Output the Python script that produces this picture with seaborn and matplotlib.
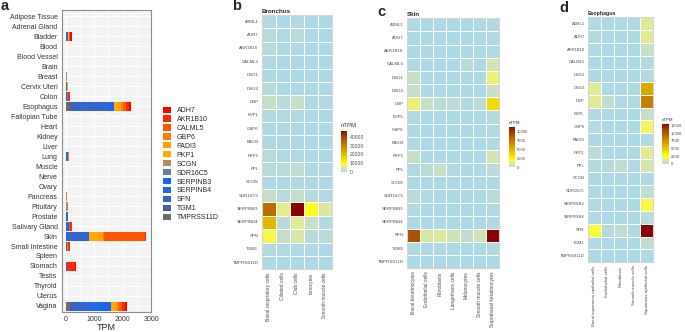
import numpy as np
import pandas as pd
import matplotlib
matplotlib.use('Agg')
import matplotlib.pyplot as plt
import seaborn as sns
from matplotlib.colors import ListedColormap, to_rgb
from matplotlib.patches import Patch

# ── Panel a: TPM theo mô ──
tissues = ['Adipose Tissue', 'Adrenal Gland', 'Bladder', 'Blood', 'Blood Vessel', 'Brain',
           'Breast', 'Cervix Uteri', 'Colon', 'Esophagus', 'Fallopian Tube', 'Heart',
           'Kidney', 'Liver', 'Lung', 'Muscle', 'Nerve', 'Ovary', 'Pancreas', 'Pituitary',
           'Prostate', 'Salivary Gland', 'Skin', 'Small Intestine', 'Spleen', 'Stomach',
           'Testis', 'Thyroid', 'Uterus', 'Vagina']
genes_a = ['ADH7', 'AKR1B10', 'CALML5', 'GBP6', 'PADI3', 'PKP1', 'SCGN', 'SDR16C5',
           'SERPINB3', 'SERPINB4', 'SFN', 'TGM1', 'TMPRSS11D']
gene_colors = ['#FF0000', '#FF2A00', '#FF5500', '#FF7F00', '#FFA200', '#FFAA00', '#B38C5A',
               '#6878A8', '#1E62F0', '#2466E6', '#3366CC', '#4A5E9A', '#6B6B6B']

ADH7 = [0, 0, 45, 0, 0, 0, 0, 2, 30, 75, 0, 0, 10, 0, 3, 0, 0, 0, 0, 0, 2, 10, 5, 10, 0, 40, 0, 0, 0, 60]
AKR1B10 = [0, 0, 30, 0, 0, 0, 0, 3, 60, 110, 0, 0, 5, 2, 5, 0, 0, 0, 0, 0, 3, 60, 10, 80, 0, 270, 0, 0, 0, 120]
CALML5 = [0, 0, 20, 0, 0, 0, 2, 2, 0, 100, 0, 0, 0, 0, 2, 0, 0, 0, 0, 0, 2, 40, 1480, 0, 0, 5, 0, 0, 0, 120]
GBP6 = [0, 0, 5, 0, 0, 0, 0, 1, 5, 80, 0, 0, 0, 0, 1, 0, 0, 0, 0, 0, 0, 5, 10, 5, 0, 0, 0, 0, 0, 50]
PADI3 = [0, 0, 5, 0, 0, 0, 0, 0, 0, 100, 0, 0, 0, 0, 0, 0, 0, 0, 0, 0, 0, 0, 230, 0, 0, 0, 0, 0, 0, 100]
PKP1 = [0, 0, 15, 0, 0, 0, 0, 3, 2, 130, 0, 0, 0, 0, 2, 0, 0, 0, 0, 0, 2, 5, 260, 2, 0, 2, 0, 0, 0, 120]
SCGN = [2, 3, 0, 0, 0, 5, 15, 0, 2, 0, 2, 0, 0, 0, 0, 0, 0, 0, 30, 50, 0, 0, 0, 2, 0, 0, 0, 0, 0, 0]
SDR16C5 = [3, 0, 3, 0, 2, 2, 3, 2, 2, 20, 3, 0, 0, 0, 3, 0, 2, 2, 0, 2, 3, 5, 20, 2, 0, 2, 0, 0, 0, 10]
SERPINB3 = [0, 0, 5, 0, 0, 0, 0, 10, 0, 130, 0, 0, 0, 0, 20, 0, 0, 0, 0, 0, 5, 10, 10, 0, 0, 0, 0, 0, 0, 400]
SERPINB4 = [0, 0, 5, 0, 0, 0, 0, 8, 0, 120, 0, 0, 0, 0, 10, 0, 0, 0, 0, 0, 3, 5, 5, 0, 0, 0, 0, 0, 0, 350]
SFN = [5, 3, 60, 2, 5, 2, 5, 30, 50, 1140, 5, 3, 3, 3, 50, 3, 5, 5, 5, 5, 50, 70, 780, 40, 3, 40, 5, 5, 5, 630]
TGM1 = [0, 0, 5, 0, 0, 0, 0, 2, 2, 200, 0, 0, 0, 0, 2, 0, 0, 0, 0, 0, 10, 5, 10, 2, 0, 2, 0, 0, 0, 50]
TMPRSS11D = [0, 0, 5, 0, 0, 0, 2, 2, 2, 100, 0, 0, 0, 0, 2, 0, 0, 0, 0, 0, 2, 3, 0, 2, 0, 2, 0, 0, 0, 150]
tpm_lists = [ADH7, AKR1B10, CALML5, GBP6, PADI3, PKP1, SCGN, SDR16C5,
             SERPINB3, SERPINB4, SFN, TGM1, TMPRSS11D]

# ── Panel b-d: nTPM theo loại tế bào ──
genes_hm = ['A2ML1', 'ADH7', 'AKR1B10', 'CALML5', 'DSG1', 'DSG3', 'DSP', 'EVPL', 'GBP6',
            'PADI3', 'PKP1', 'PPL', 'SCGN', 'SDR16C5', 'SERPINB3', 'SERPINB4', 'SFN',
            'TGM1', 'TMPRSS11D']

bronchus_cells = ['Basal respiratory cells', 'Ciliated cells', 'Club cells', 'Ionocytes',
                  'Smooth muscle cells']
bronchus_ntpm = [
    [200, 150, 200, 80, 40],
    [750, 200, 800, 150, 40],
    [750, 200, 350, 150, 40],
    [200, 150, 150, 80, 40],
    [150, 80, 80, 80, 40],
    [750, 150, 150, 80, 40],
    [1900, 750, 1900, 300, 200],
    [400, 200, 200, 150, 40],
    [500, 200, 300, 150, 40],
    [150, 80, 80, 80, 40],
    [750, 200, 300, 150, 40],
    [900, 900, 1400, 300, 200],
    [150, 150, 200, 80, 40],
    [1900, 750, 1700, 900, 300],
    [33000, 5200, 47000, 9100, 4200],
    [21000, 750, 4700, 1900, 200],
    [8000, 1700, 3600, 900, 1100],
    [600, 300, 300, 200, 80],
    [300, 150, 150, 80, 40],
]

skin_cells = ['Basal keratinocytes', 'Endothelial cells', 'Fibroblasts', 'Langerhans cells',
              'Melanocytes', 'Smooth muscle cells', 'Suprabasal keratinocytes']
skin_ntpm = [
    [60, 20, 20, 20, 20, 20, 100],
    [40, 20, 20, 20, 20, 20, 80],
    [40, 20, 20, 20, 20, 20, 80],
    [80, 20, 20, 40, 220, 40, 780],
    [450, 40, 40, 40, 40, 40, 1450],
    [450, 40, 40, 40, 40, 40, 450],
    [1450, 450, 220, 220, 100, 220, 3550],
    [100, 40, 40, 40, 40, 40, 150],
    [40, 20, 20, 20, 20, 20, 60],
    [60, 20, 20, 20, 20, 20, 100],
    [450, 40, 40, 40, 40, 40, 780],
    [80, 220, 450, 80, 40, 80, 220],
    [20, 20, 20, 20, 20, 20, 20],
    [220, 80, 40, 40, 40, 40, 220],
    [60, 20, 20, 20, 20, 20, 80],
    [40, 20, 20, 20, 20, 20, 60],
    [8900, 900, 1000, 670, 330, 730, 11100],
    [60, 20, 20, 20, 20, 20, 100],
    [20, 20, 20, 20, 20, 20, 40],
]

esoph_cells = ['Basal squamous epithelial cells', 'Endothelial cells', 'Fibroblasts',
               'Smooth muscle cells', 'Squamous epithelial cells']
esoph_ntpm = [
    [60, 30, 30, 30, 1200],
    [200, 30, 30, 30, 1300],
    [60, 30, 30, 30, 520],
    [50, 30, 30, 30, 120],
    [50, 30, 30, 30, 150],
    [1300, 30, 30, 30, 6400],
    [1300, 400, 100, 60, 8300],
    [60, 30, 30, 30, 520],
    [200, 30, 30, 30, 1950],
    [30, 30, 30, 30, 100],
    [260, 30, 30, 30, 1300],
    [200, 200, 400, 60, 900],
    [30, 30, 30, 30, 50],
    [60, 30, 30, 30, 400],
    [150, 30, 30, 30, 2200],
    [60, 30, 30, 30, 260],
    [2350, 200, 400, 100, 13000],
    [60, 30, 30, 30, 400],
    [30, 30, 30, 30, 100],
]

sns.set_style('white')
plt.rcParams['font.family'] = ['Liberation Sans', 'DejaVu Sans']

W, H = 685, 332
fig = plt.figure(figsize=(W / 100, H / 100), dpi=100)


def px_rect(x0, y0, x1, y1):
    return [x0 / W, 1 - y1 / H, (x1 - x0) / W, (y1 - y0) / H]


# ── a: stacked bars ──
rows = []
for g, vals in zip(genes_a, tpm_lists):
    for i, v in enumerate(vals):
        rows.append({'pos': i, 'gene': g, 'tpm': v})
df_a = pd.DataFrame(rows)

ax = fig.add_axes(px_rect(62, 10, 151, 312))
ax.set_facecolor('#F3F3F3')
sns.histplot(data=df_a, y='pos', weights='tpm', hue='gene', hue_order=genes_a,
             palette=dict(zip(genes_a, gene_colors)), multiple='stack', discrete=True,
             shrink=0.9, alpha=1, linewidth=0, legend=False, ax=ax)
ax.set_ylim(len(tissues) - 0.4, -0.6)
ax.set_xlim(-140, 3000)
ax.set_yticks(range(len(tissues)))
ax.set_yticklabels(tissues)
ax.set_xticks([0, 1000, 2000, 3000])
ax.set_xticks([500, 1500, 2500], minor=True)
ax.grid(True, which='major', color='white', lw=0.8)
ax.grid(True, which='minor', axis='x', color='white', lw=0.5)
ax.set_axisbelow(True)
ax.tick_params(axis='both', which='major', labelsize=5, length=2, width=0.5,
               color='#444444', labelcolor='#333333', pad=1.2)
ax.tick_params(which='minor', length=0)
ax.set_ylabel('')
ax.set_xlabel('')
for s in ax.spines.values():
    s.set_visible(True)
    s.set_color('#8C8C8C')
    s.set_linewidth(0.8)
fig.text(106 / W, 1 - 327 / H, 'TPM', fontsize=6.5, ha='center', va='center')

handles = [Patch(facecolor=c, edgecolor='none', label=g) for g, c in zip(genes_a, gene_colors)]
fig.legend(handles=handles, loc='upper left', bbox_to_anchor=(163 / W, 1 - 106.5 / H),
           frameon=False, fontsize=5, borderpad=0, borderaxespad=0, handlelength=1.15,
           handleheight=1.0, labelspacing=0.21, handletextpad=0.8)


# ── b-d: heatmaps (gradient nội suy trong không gian Lab như ggplot) ──
M_XYZ = np.array([[0.4124, 0.3576, 0.1805], [0.2126, 0.7152, 0.0722], [0.0193, 0.1192, 0.9505]])
WHITE = np.array([0.95047, 1.0, 1.08883])


def to_lab(c):
    rgb = np.array(to_rgb(c))
    lin = np.where(rgb <= 0.04045, rgb / 12.92, ((rgb + 0.055) / 1.055) ** 2.4)
    xyz = M_XYZ @ lin / WHITE
    f = np.where(xyz > 0.008856, np.cbrt(xyz), 7.787 * xyz + 16 / 116)
    return np.array([116 * f[1] - 16, 500 * (f[0] - f[1]), 200 * (f[1] - f[2])])


def from_lab(lab):
    fy = (lab[0] + 16) / 116
    f = np.array([fy + lab[1] / 500, fy, fy - lab[2] / 200])
    xyz = np.where(f ** 3 > 0.008856, f ** 3, (f - 16 / 116) / 7.787) * WHITE
    lin = np.clip(np.linalg.solve(M_XYZ, xyz), 0, 1)
    rgb = np.where(lin <= 0.0031308, 12.92 * lin, 1.055 * lin ** (1 / 2.4) - 0.055)
    return np.clip(rgb, 0, 1)


anchor_pos = [0.0, 0.2, 1.0]
anchor_labs = [to_lab(c) for c in ['lightblue', 'yellow', 'darkred']]
cmap_cols = []
for t in np.linspace(0, 1, 256):
    k = 0 if t <= anchor_pos[1] else 1
    u = (t - anchor_pos[k]) / (anchor_pos[k + 1] - anchor_pos[k])
    cmap_cols.append(from_lab(anchor_labs[k] * (1 - u) + anchor_labs[k + 1] * u))
ntpm_cmap = ListedColormap(cmap_cols)


def draw_heat(rect, crect, data, cells, title, ticks, title_fs, ylab_fs, xlab_fs, cb_fs, nt_fs):
    hax = fig.add_axes(rect)
    cax = fig.add_axes(crect)
    df = pd.DataFrame(data, index=genes_hm, columns=cells)
    sns.heatmap(df, ax=hax, cmap=ntpm_cmap, vmin=0, vmax=df.values.max(),
                linewidths=0.7, linecolor='white', cbar_ax=cax,
                cbar_kws={'ticks': ticks}, xticklabels=True, yticklabels=True)
    hax.set_xlabel('')
    hax.set_ylabel('')
    hax.tick_params(axis='both', length=1.2, width=0.4,
                    color='#777777', labelcolor='#4D4D4D', pad=1)
    hax.tick_params(axis='y', labelsize=ylab_fs)
    hax.tick_params(axis='x', labelsize=xlab_fs)
    plt.setp(hax.get_xticklabels(), rotation=90)
    plt.setp(hax.get_yticklabels(), rotation=0)
    for s in hax.spines.values():
        s.set_visible(True)
        s.set_color('#D5D5D5')
        s.set_linewidth(0.8)
    hax.set_title(title, fontsize=title_fs, fontweight='bold', loc='left', pad=1.5)
    cbar = hax.collections[0].colorbar
    cbar.outline.set_visible(False)
    cax.tick_params(labelsize=cb_fs, length=0, pad=1.5, labelcolor='#4D4D4D')
    cax.yaxis.set_major_formatter(matplotlib.ticker.FuncFormatter(lambda v, p: f'{int(v)}'))
    cax.set_title('nTPM', fontsize=nt_fs, loc='left', pad=2.5, color='#333333')


draw_heat(px_rect(261.5, 15, 331.7, 269.3), px_rect(340.7, 130.7, 347.3, 171.7),
          bronchus_ntpm, bronchus_cells, 'Bronchus',
          [0, 10000, 20000, 30000, 40000], 4.5, 3.2, 3.5, 3.6, 4.3)
draw_heat(px_rect(406.7, 18.3, 499.3, 268.3), px_rect(509, 127, 515, 167.5),
          skin_ntpm, skin_cells, 'Skin',
          [0, 2500, 5000, 7500, 10000], 4.5, 3.2, 3.5, 3.0, 3.2)
draw_heat(px_rect(587.7, 17.3, 653.3, 262.3), px_rect(661.7, 124, 669, 164),
          esoph_ntpm, esoph_cells, 'Esophagus',
          [0, 2500, 5000, 7500, 10000, 12500], 3.8, 3.0, 3.2, 3.0, 3.2)

# ── nhãn panel ──
for lab, x, y in [('a', 1, 10.5), ('b', 232, 10), ('c', 377, 16.5), ('d', 559, 12)]:
    fig.text(x / W, 1 - y / H, lab, fontsize=10.5, fontweight='bold', ha='left', va='baseline')

fig.savefig('out.png', dpi=100)
